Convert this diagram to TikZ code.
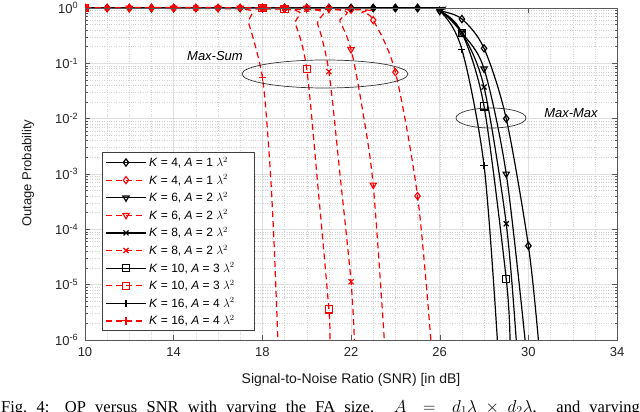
\documentclass[tikz,border=0pt]{standalone}
\usepackage{fontspec}
\setmainfont{Liberation Sans}
\newfontfamily\capfont{Liberation Serif}
\usetikzlibrary{plotmarks}
\tikzset{
 blk/.style={black,line width=1.2pt},
 rd/.style={red,line width=1.2pt,dash pattern=on 6pt off 4pt},
 rm/.style={red,line width=1.1pt},
 mk/.style={mark size=3.6pt,mark options={solid,fill=white}},
 tri/.style={mark=triangle,mark options={solid,rotate=180,fill=white}},
 majgrid/.style={gray!25,line width=0.5pt},
 mingrid/.style={gray!35,line width=0.4pt,dotted},
 lbl/.style={font=\fontsize{13}{15}\selectfont}
}
\begin{document}
\begin{tikzpicture}[x=1pt,y=1pt]
\useasboundingbox (0,0) rectangle (640,-412);
\fill[white] (0,0) rectangle (640,-412);
\begin{scope}[shift={(-136.7,-8)},x=22.17pt,y=55.3pt]
 % grid
 \foreach \x in {11,...,33} \draw[mingrid] (\x,0) -- (\x,-6);
 \foreach \d in {0,...,5} \foreach \m in {2,...,9}
   \draw[mingrid] (10,{-\d-1+log10(\m)}) -- (34,{-\d-1+log10(\m)});
 \foreach \x in {14,18,...,30} \draw[majgrid] (\x,0) -- (\x,-6);
 \foreach \d in {1,...,5} \draw[majgrid] (10,-\d) -- (34,-\d);
 % ticks
 \foreach \x in {10,14,...,34} {
   \draw[gray!70!black] (\x,-6) -- ++(0,5pt) (\x,0) -- ++(0,-5pt);
   \node[lbl,anchor=north,gray!30!black] at (\x,-6.08) {\x};}
 \foreach \d in {0,...,6} {
   \draw[gray!70!black] (10,-\d) -- ++(5pt,0) (34,-\d) -- ++(-5pt,0);}
 \foreach \d in {1,...,6} {
   \node[lbl,anchor=east,gray!30!black] at (9.85,-\d) {10\textsuperscript{-\d}};}
 \node[lbl,anchor=east,gray!30!black] at (9.85,0) {10\textsuperscript{0}};
 \foreach \d in {0,...,5} \foreach \m in {2,...,9} {
   \draw[gray!70!black] (10,{-\d-1+log10(\m)}) -- ++(2.5pt,0);
   \draw[gray!70!black] (34,{-\d-1+log10(\m)}) -- ++(-2.5pt,0);}
 \begin{scope}
 \clip (10,0.1) rectangle (34,-6);
 % black curves
 \draw[blk] plot[smooth,tension=0.5] coordinates {(10,0)(25,0)(26,-0.05)(27,-0.2)(28,-0.73)(29,-2.0)(30,-4.3)(30.45,-6)};
 \draw[blk,mk,mark=diamond] plot[only marks] coordinates {(10,0)(11,0)(12,0)(13,0)(14,0)(15,0)(16,0)(17,0)(18,0)(19,0)(20,0)(21,0)(22,0)(23,0)(24,0)(25,0)(26,-0.05)(27,-0.2)(28,-0.73)(29,-2.0)(30,-4.3)};
 \draw[blk] plot[smooth,tension=0.5] coordinates {(10,0)(25,0)(26,-0.05)(27,-0.45)(28,-1.1)(29,-3.0)(29.85,-6)};
 \draw[blk,mk,tri] plot[only marks] coordinates {(26,-0.05)(27,-0.45)(28,-1.1)(29,-3.0)};
 \draw[blk] plot[smooth,tension=0.5] coordinates {(10,0)(25,0)(26,-0.05)(27,-0.45)(28,-1.43)(29,-3.9)(29.45,-6)};
 \draw[blk,mk,mark=x] plot[only marks] coordinates {(27,-0.45)(28,-1.43)(29,-3.9)};
 \draw[blk] plot[smooth,tension=0.5] coordinates {(10,0)(25,0)(26,-0.05)(27,-0.45)(28,-1.78)(29,-4.9)(29.17,-6)};
 \draw[blk,mk,mark=square] plot[only marks] coordinates {(27,-0.45)(28,-1.78)(29,-4.9)};
 \draw[blk] plot[smooth,tension=0.5] coordinates {(10,0)(25,0)(26,-0.05)(27,-0.75)(28,-2.85)(28.6,-6)};
 \draw[blk,mk,mark=+] plot[only marks] coordinates {(27,-0.75)(28,-2.85)};
 \draw[blk,mk,mark=diamond*,mark options={fill=black}] plot[only marks] coordinates {(18,0)(19,0)(20,0)(21,0)(22,0)(23,0)(24,0)(25,0)};
 % red curves
 \draw[rd] plot[smooth,tension=0.5] coordinates {(10,0)(22,-0.03)(22.5,-0.08)(23,-0.22)(24,-1.16)(25,-3.4)(25.6,-6)};
 \draw[rm,mk,mark=diamond] plot[only marks] coordinates {(10,0)(11,0)(12,0)(13,0)(14,0)(15,0)(16,0)(17,0)(18,0)(19,0)(20,0)(21,0)(22,-0.03)(23,-0.22)(24,-1.16)(25,-3.4)};
 \draw[rd] plot[smooth,tension=0.5] coordinates {(10,0)(21,-0.02)(21.5,-0.25)(22,-0.75)(22.5,-1.8)(23,-3.2)(23.5,-6)};
 \draw[rm,mk,tri] plot[only marks] coordinates {(10,0)(12,0)(14,0)(16,0)(17,0)(18,0)(19,0)(20,0)(21,-0.02)(22,-0.75)(23,-3.2)};
 \draw[rd] plot[smooth,tension=0.5] coordinates {(10,0)(20,-0.02)(20.5,-0.3)(21,-1.15)(21.5,-3.0)(22,-4.95)(22.15,-6)};
 \draw[rm,mk,mark=x] plot[only marks] coordinates {(10,0)(15,0)(18,0)(19,0)(20,-0.02)(21,-1.15)(22,-4.95)};
 \draw[rd] plot[smooth,tension=0.5] coordinates {(10,0)(19,-0.02)(19.5,-0.3)(20,-1.1)(20.5,-3.2)(21,-5.45)(21.05,-6)};
 \draw[rm,mk,mark=square] plot[only marks] coordinates {(10,0)(18,0)(19,-0.02)(20,-1.1)(21,-5.45)};
 \draw[rd] plot[smooth,tension=0.5] coordinates {(10,0)(17,-0.01)(17.4,-0.3)(18,-1.25)(18.3,-2.6)(18.5,-4)(18.7,-6)};
 \draw[rm,mk,mark=+] plot[only marks] coordinates {(10,0)(13,0)(16,0)(17,-0.01)(18,-1.25)};
 \draw[rm,mk,mark=diamond*,mark options={fill=red}] plot[only marks] coordinates {(10,0)(11,0)(12,0)(13,0)(14,0)(15,0)(16,0)};
 \end{scope}
 \draw[gray!70!black,line width=0.5pt] (10,0) rectangle (34,-6);
\end{scope}
% annotations
\draw[black!80,line width=0.7pt] (325,-74) ellipse [x radius=83,y radius=14];
\node[lbl,font=\fontsize{13}{15}\selectfont\itshape] at (215,-56) {Max-Sum};
\draw[black!80,line width=0.7pt] (491,-118) ellipse [x radius=35,y radius=10];
\node[lbl,font=\fontsize{13}{15}\selectfont\itshape] at (571,-113) {Max-Max};
% legend
\draw[fill=white,draw=gray!50!black,line width=0.7pt] (102,-152) rectangle (254,-330);
\foreach \i in {0,...,9} {
  \coordinate (l\i) at (106,{-162.5-17.6*\i});
}
\foreach \i/\k/\a in {0/4/1,2/6/2,4/8/2,6/10/3,8/16/4} {
  \draw[blk] (l\i) -- ++(40,0);
  \pgfmathtruncatemacro\j{\i+1}
  \draw[rd] (l\j) -- ++(40,0);
  \node[anchor=west,inner sep=1pt,font=\fontsize{12}{14}\selectfont] at ([xshift=42pt]l\i) {\textit{K} = \k, \textit{A} = \a\ $\lambda^2$};
  \node[anchor=west,inner sep=1pt,font=\fontsize{12}{14}\selectfont] at ([xshift=42pt]l\j) {\textit{K} = \k, \textit{A} = \a\ $\lambda^2$};
}
\path[blk,mk,mark=diamond] plot coordinates {([xshift=20pt]l0)};
\path[rm,mk,mark=diamond] plot coordinates {([xshift=20pt]l1)};
\path[blk,mk,tri] plot coordinates {([xshift=20pt]l2)};
\path[rm,mk,tri] plot coordinates {([xshift=20pt]l3)};
\path[blk,mk,mark=x] plot coordinates {([xshift=20pt]l4)};
\path[rm,mk,mark=x] plot coordinates {([xshift=20pt]l5)};
\path[blk,mk,mark=square] plot coordinates {([xshift=20pt]l6)};
\path[rm,mk,mark=square] plot coordinates {([xshift=20pt]l7)};
\path[blk,mk,mark=+] plot coordinates {([xshift=20pt]l8)};
\path[rm,mk,mark=+] plot coordinates {([xshift=20pt]l9)};
% axis labels
\node[lbl,rotate=90,gray!20!black] at (28,-173) {Outage Probability};
\node[gray!20!black,font=\fontsize{14}{16}\selectfont] at (351,-380) {Signal-to-Noise Ratio (SNR) [in dB]};
\node[anchor=west,inner sep=0pt,font=\capfont\fontsize{16.5}{18}\selectfont] at (1,-408) {\makebox[668pt][s]{Fig.~4: OP versus SNR with varying the FA size, \ $A = d_1\lambda \times d_2\lambda$, \ and varying the}};
\end{tikzpicture}
\end{document}
